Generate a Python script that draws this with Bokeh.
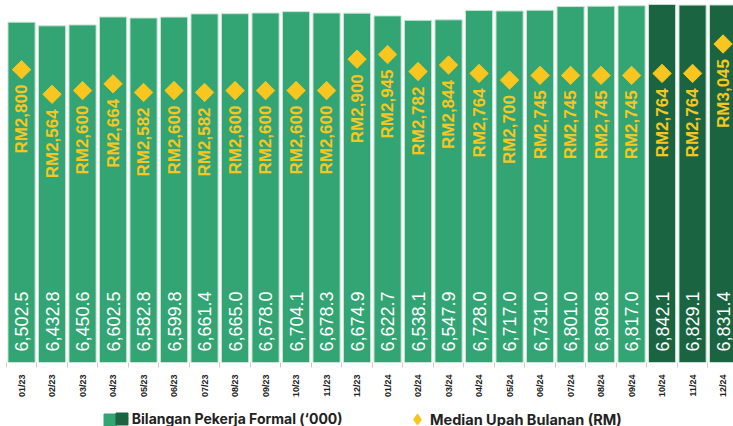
import numpy as np
from bokeh.plotting import figure
from bokeh.layouts import column
from bokeh.models import (Range1d, FixedTicker, ColumnDataSource, Legend, LegendItem)
from bokeh.core.properties import value
from bokeh.embed import file_html
from bokeh.resources import INLINE

months = ["01/23", "02/23", "03/23", "04/23", "05/23", "06/23", "07/23", "08/23",
          "09/23", "10/23", "11/23", "12/23", "01/24", "02/24", "03/24", "04/24",
          "05/24", "06/24", "07/24", "08/24", "09/24", "10/24", "11/24", "12/24"]
workers = [6502.5, 6432.8, 6450.6, 6602.5, 6582.8, 6599.8, 6661.4, 6665.0,
           6678.0, 6704.1, 6678.3, 6674.9, 6622.7, 6538.1, 6547.9, 6728.0,
           6717.0, 6731.0, 6801.0, 6808.8, 6817.0, 6842.1, 6829.1, 6831.4]
wages = [2800, 2564, 2600, 2664, 2582, 2600, 2582, 2600, 2600, 2600, 2600, 2900,
         2945, 2782, 2844, 2764, 2700, 2745, 2745, 2745, 2745, 2764, 2764, 3045]
highlighted = ["10/24", "11/24", "12/24"]

LIGHT = "#33a474"
DARK = "#1b6442"
YELLOW = "#f8c61e"
BORDER = "#c4e6d2"
SANS = "Liberation Sans"
LEG_FONT = "Inter"

xs = list(range(len(months)))
src = ColumnDataSource(dict(
    x=xs,
    workers=workers,
    wages=wages,
    color=[DARK if m in highlighted else LIGHT for m in months],
    wlab=[f"{v:,.1f}" for v in workers],
    rlab=[f"RM{v:,}" for v in wages],
))

W = 733
p = figure(width=W, height=400, output_backend="svg", toolbar_location=None, tools="",
           x_range=Range1d(-0.69, 23.342), y_range=Range1d(0, 6917),
           min_border_left=0, min_border_right=0, min_border_top=0, min_border_bottom=30)
p.extra_y_ranges = {"wage": Range1d(0, 3461)}
p.outline_line_color = None
p.xgrid.visible = False
p.ygrid.visible = False
p.yaxis.visible = False

p.vbar(x="x", top="workers", bottom=0, width=0.89, fill_color="color",
       line_color=BORDER, line_width=1, source=src)

p.scatter(x="x", y="wages", y_range_name="wage", marker="square", angle=np.pi / 4,
          size=13, fill_color=YELLOW, line_color=YELLOW, source=src)

p.text(x="x", y=0, text="wlab", angle=np.pi / 2, text_align="left", text_baseline="middle",
       y_offset=-11, text_font=value(SANS), text_font_size="18px", text_color="white",
       source=src)

p.text(x="x", y="wages", y_range_name="wage", text="rlab", angle=np.pi / 2,
       text_align="right", text_baseline="middle", y_offset=15, text_font=value(SANS),
       text_font_style="bold", text_font_size="17px", text_color=YELLOW, source=src)

ax = p.xaxis[0]
ax.ticker = FixedTicker(ticks=xs, minor_ticks=[i + 0.5 for i in range(-1, len(months))])
ax.major_label_overrides = {i: m for i, m in enumerate(months)}
ax.major_label_orientation = np.pi / 2
ax.major_tick_line_color = None
ax.major_tick_out = 0
ax.major_tick_in = 0
ax.minor_tick_in = 0
ax.minor_tick_out = 5
ax.minor_tick_line_color = "#cccccc"
ax.axis_line_color = None
ax.major_label_standoff = 7
ax.major_label_text_font = SANS
ax.major_label_text_font_style = "bold"
ax.major_label_text_font_size = "9px"
ax.major_label_text_color = "#222222"

# legend strip (dummy renderers sit outside the visible range)
lg = figure(width=W, height=26, output_backend="svg", toolbar_location=None, tools="",
            x_range=Range1d(0, 1), y_range=Range1d(0, 1),
            min_border_left=0, min_border_right=0, min_border_top=0, min_border_bottom=0)
lg.axis.visible = False
lg.grid.visible = False
lg.outline_line_color = None
r_light = lg.vbar(x=[-5], top=[-5], bottom=[-6], width=1, fill_color=LIGHT, line_color=LIGHT)
r_dark = lg.vbar(x=[-5], top=[-5], bottom=[-6], width=1, fill_color=DARK, line_color=DARK)
r_dia = lg.scatter(x=[-5], y=[-5], marker="diamond", size=10,
                   fill_color=YELLOW, line_color=YELLOW, line_width=1.5)

common = dict(orientation="horizontal", spacing=0, padding=0, margin=0,
              label_text_font=LEG_FONT, label_text_font_style="bold",
              label_text_color="#222222", border_line_color=None, background_fill_alpha=0)
leg0 = Legend(items=[LegendItem(label="", renderers=[r_light])],
              location=(101.5, -1), glyph_width=15, glyph_height=15, label_standoff=0,
              label_width=0, label_text_font_size="14px", **common)
leg1 = Legend(items=[LegendItem(label="\u00a0Bilangan Pekerja Formal (\u2018000)", renderers=[r_dark])],
              location=(113.5, -1), glyph_width=15, glyph_height=15, label_standoff=-1,
              label_text_font_size="14px", **common)
leg2 = Legend(items=[LegendItem(label="Median Upah Bulanan (RM)", renderers=[r_dia])],
              location=(404, -8), glyph_width=26, glyph_height=30, label_standoff=0,
              label_text_font_size="14.5px", **common)
lg.add_layout(leg0, "center")
lg.add_layout(leg1, "center")
lg.add_layout(leg2, "center")

open("out.html", "w").write(file_html(column(p, lg, spacing=0), INLINE))
